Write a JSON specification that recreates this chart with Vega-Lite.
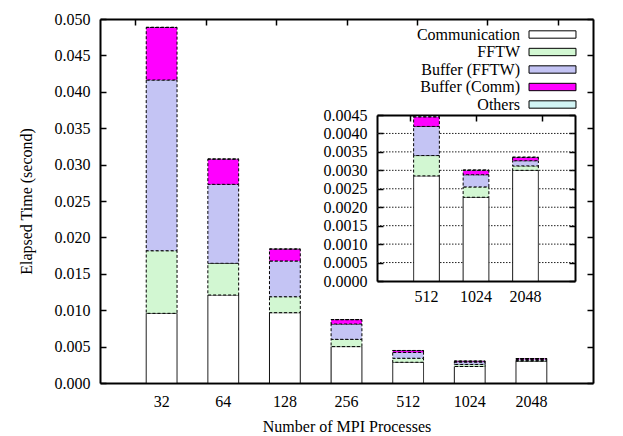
{
  "$schema": "https://vega.github.io/schema/vega-lite/v6.json",
  "width": 493,
  "height": 364,
  "autosize": {"type": "none"},
  "padding": {"left": 100, "top": 19, "right": 30, "bottom": 53},
  "background": "#ffffff",
  "datasets": {
    "main": [
      {"procs": "32", "series": "Communication", "t": 0.00957},
      {"procs": "32", "series": "FFTW", "t": 0.00860},
      {"procs": "32", "series": "Buffer (FFTW)", "t": 0.02345},
      {"procs": "32", "series": "Buffer (Comm)", "t": 0.00722},
      {"procs": "32", "series": "Others", "t": 0.00002},
      {"procs": "64", "series": "Communication", "t": 0.01209},
      {"procs": "64", "series": "FFTW", "t": 0.00435},
      {"procs": "64", "series": "Buffer (FFTW)", "t": 0.01085},
      {"procs": "64", "series": "Buffer (Comm)", "t": 0.00346},
      {"procs": "64", "series": "Others", "t": 0.00002},
      {"procs": "128", "series": "Communication", "t": 0.00966},
      {"procs": "128", "series": "FFTW", "t": 0.00219},
      {"procs": "128", "series": "Buffer (FFTW)", "t": 0.00491},
      {"procs": "128", "series": "Buffer (Comm)", "t": 0.00163},
      {"procs": "128", "series": "Others", "t": 0.00002},
      {"procs": "256", "series": "Communication", "t": 0.00500},
      {"procs": "256", "series": "FFTW", "t": 0.00100},
      {"procs": "256", "series": "Buffer (FFTW)", "t": 0.00210},
      {"procs": "256", "series": "Buffer (Comm)", "t": 0.00060},
      {"procs": "256", "series": "Others", "t": 0.00002},
      {"procs": "512", "series": "Communication", "t": 0.00285},
      {"procs": "512", "series": "FFTW", "t": 0.00055},
      {"procs": "512", "series": "Buffer (FFTW)", "t": 0.00079},
      {"procs": "512", "series": "Buffer (Comm)", "t": 0.00026},
      {"procs": "512", "series": "Others", "t": 0.00002},
      {"procs": "1024", "series": "Communication", "t": 0.00227},
      {"procs": "1024", "series": "FFTW", "t": 0.00028},
      {"procs": "1024", "series": "Buffer (FFTW)", "t": 0.00033},
      {"procs": "1024", "series": "Buffer (Comm)", "t": 0.00012},
      {"procs": "1024", "series": "Others", "t": 0.00001},
      {"procs": "2048", "series": "Communication", "t": 0.00300},
      {"procs": "2048", "series": "FFTW", "t": 0.00012},
      {"procs": "2048", "series": "Buffer (FFTW)", "t": 0.00014},
      {"procs": "2048", "series": "Buffer (Comm)", "t": 0.00009},
      {"procs": "2048", "series": "Others", "t": 0.00001}
    ],
    "seriesOrder": [
      {"series": "Communication", "rank": 1},
      {"series": "FFTW", "rank": 2},
      {"series": "Buffer (FFTW)", "rank": 3},
      {"series": "Buffer (Comm)", "rank": 4},
      {"series": "Others", "rank": 5}
    ],
    "insetGrid": [
      {"g": 0.0005}, {"g": 0.001}, {"g": 0.0015}, {"g": 0.002},
      {"g": 0.0025}, {"g": 0.003}, {"g": 0.0035}, {"g": 0.004}
    ]
  },
  "config": {
    "font": "Liberation Serif",
    "view": {"stroke": null},
    "axis": {
      "labelFont": "Liberation Serif",
      "titleFont": "Liberation Serif",
      "labelFontSize": 16,
      "titleFontSize": 16,
      "titleFontWeight": "normal",
      "labelColor": "#000000",
      "titleColor": "#000000",
      "domainColor": "#000000",
      "tickColor": "#000000",
      "tickWidth": 1.5,
      "domainWidth": 2,
      "grid": false
    }
  },
  "resolve": {"scale": {"x": "independent", "y": "independent"}},
  "layer": [
    {
      "data": {"name": "main"},
      "transform": [
        {"lookup": "series", "from": {"data": {"name": "seriesOrder"}, "key": "series", "fields": ["rank"]}}
      ],
      "mark": {"type": "bar", "stroke": "#000000", "strokeWidth": 1},
      "encoding": {
        "x": {
          "field": "procs", "type": "nominal",
          "sort": ["32", "64", "128", "256", "512", "1024", "2048"],
          "scale": {"domain": ["32", "64", "128", "256", "512", "1024", "2048"], "paddingInner": 0.5, "paddingOuter": 0.75},
          "axis": {"orient": "bottom", "title": "Number of MPI Processes", "labelAngle": 0, "tickSize": -6, "labelPadding": 16, "titlePadding": 9}
        },
        "y": {
          "field": "t", "type": "quantitative", "stack": "zero",
          "scale": {"domain": [0, 0.05], "nice": false},
          "axis": {"orient": "left", "values": [0, 0.005, 0.01, 0.015, 0.02, 0.025, 0.03, 0.035, 0.04, 0.045, 0.05], "format": ".3f", "tickSize": -6, "labelPadding": 16, "title": "Elapsed Time (second)", "titlePadding": 20}
        },
        "color": {
          "field": "series", "type": "nominal",
          "sort": ["Communication", "FFTW", "Buffer (FFTW)", "Buffer (Comm)", "Others"],
          "scale": {"domain": ["Communication", "FFTW", "Buffer (FFTW)", "Buffer (Comm)", "Others"], "range": ["#ffffff", "#d2f7d2", "#c4c4f4", "#ff00ff", "#d2f4f4"]},
          "legend": {
            "orient": "none", "legendX": 444, "legendY": 7, "title": null, "padding": 0,
            "symbolType": "M-3,-0.47H3V0.47H-3Z", "symbolSize": 245,
            "symbolStrokeColor": "#000000", "symbolStrokeWidth": 1, "symbolOpacity": 1,
            "labelAlign": "right", "labelOffset": -41, "labelFontSize": 16, "labelFont": "Liberation Serif",
            "labelColor": "#000000", "rowPadding": 0.5
          }
        },
        "order": {"field": "rank", "type": "quantitative", "sort": "ascending"},
        "strokeDash": {"condition": {"test": "datum.series === 'Communication'", "value": [1, 0]}, "value": [3, 2]}
      }
    },
    {
      "data": {"name": "main"},
      "mark": {"type": "point", "opacity": 0},
      "encoding": {
        "x": {
          "field": "procs", "type": "nominal",
          "sort": ["32", "64", "128", "256", "512", "1024", "2048"],
          "scale": {"domain": ["32", "64", "128", "256", "512", "1024", "2048"], "paddingInner": 0.5, "paddingOuter": 0.75},
          "axis": {"orient": "top", "labels": false, "title": null, "tickSize": -6}
        },
        "y": {
          "field": "t", "type": "quantitative",
          "scale": {"domain": [0, 0.05], "nice": false},
          "axis": {"orient": "right", "labels": false, "title": null, "values": [0, 0.005, 0.01, 0.015, 0.02, 0.025, 0.03, 0.035, 0.04, 0.045, 0.05], "tickSize": -6}
        }
      }
    },
    {
      "data": {"name": "insetGrid"},
      "mark": {"type": "rule", "strokeDash": [1.5, 1.5], "stroke": "#222222", "strokeWidth": 1, "opacity": 1},
      "encoding": {
        "y": {"field": "g", "type": "quantitative", "scale": {"domain": [0, 0.0045], "range": [262, 96], "nice": false}, "axis": null},
        "x": {"datum": 0, "type": "quantitative", "scale": {"domain": [0, 1], "range": [277, 475], "nice": false, "zero": false}, "axis": null},
        "x2": {"datum": 1}
      }
    },
    {
      "data": {"name": "main"},
      "transform": [
        {"filter": {"field": "procs", "oneOf": ["512", "1024", "2048"]}},
        {"lookup": "series", "from": {"data": {"name": "seriesOrder"}, "key": "series", "fields": ["rank"]}}
      ],
      "mark": {"type": "bar", "stroke": "#000000", "strokeWidth": 1},
      "encoding": {
        "x": {
          "field": "procs", "type": "nominal",
          "sort": ["512", "1024", "2048"],
          "scale": {"domain": ["512", "1024", "2048"], "range": [277, 475], "paddingInner": 0.48, "paddingOuter": 0.74},
          "axis": {"orient": "bottom", "offset": -102, "title": null, "labelAngle": 0, "tickSize": -6, "labelPadding": 13}
        },
        "y": {
          "field": "t", "type": "quantitative", "stack": "zero",
          "scale": {"domain": [0, 0.0045], "range": [262, 96], "nice": false},
          "axis": {"orient": "left", "offset": -277, "title": null, "values": [0, 0.0005, 0.001, 0.0015, 0.002, 0.0025, 0.003, 0.0035, 0.004, 0.0045], "format": ".4f", "tickSize": -6, "labelPadding": 16}
        },
        "color": {
          "field": "series", "type": "nominal",
          "sort": ["Communication", "FFTW", "Buffer (FFTW)", "Buffer (Comm)", "Others"],
          "scale": {"domain": ["Communication", "FFTW", "Buffer (FFTW)", "Buffer (Comm)", "Others"], "range": ["#ffffff", "#d2f7d2", "#c4c4f4", "#ff00ff", "#d2f4f4"]}
        },
        "order": {"field": "rank", "type": "quantitative", "sort": "ascending"},
        "strokeDash": {"condition": {"test": "datum.series === 'Communication'", "value": [1, 0]}, "value": [3, 2]}
      }
    },
    {
      "data": {"name": "main"},
      "transform": [{"filter": {"field": "procs", "oneOf": ["512", "1024", "2048"]}}],
      "mark": {"type": "point", "opacity": 0},
      "encoding": {
        "x": {
          "field": "procs", "type": "nominal",
          "sort": ["512", "1024", "2048"],
          "scale": {"domain": ["512", "1024", "2048"], "range": [277, 475], "paddingInner": 0.48, "paddingOuter": 0.74},
          "axis": {"orient": "top", "offset": -96, "labels": false, "title": null, "tickSize": -6}
        },
        "y": {
          "field": "t", "type": "quantitative",
          "scale": {"domain": [0, 0.0045], "range": [262, 96], "nice": false},
          "axis": {"orient": "right", "offset": -18, "labels": false, "title": null, "values": [0, 0.0005, 0.001, 0.0015, 0.002, 0.0025, 0.003, 0.0035, 0.004, 0.0045], "tickSize": -6}
        }
      }
    }
  ]
}
